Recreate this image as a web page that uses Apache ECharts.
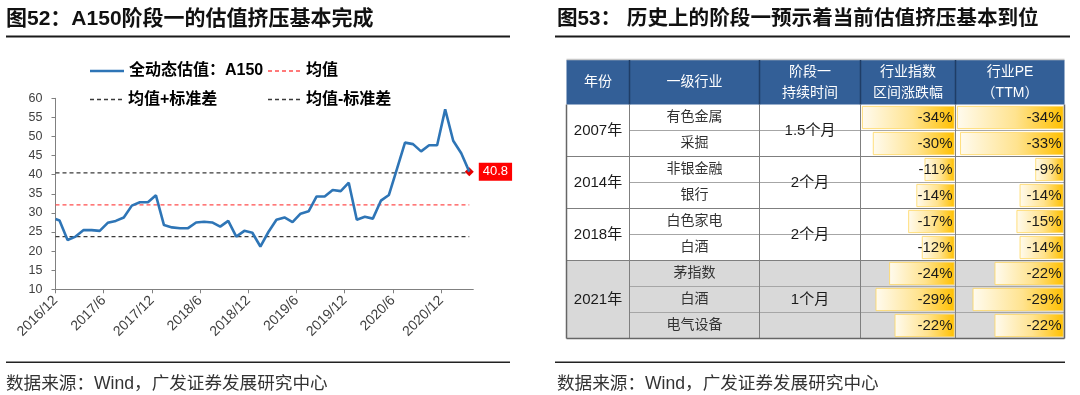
<!DOCTYPE html>
<html><head><meta charset="utf-8">
<script src="https://cdn.jsdelivr.net/npm/echarts@6/dist/echarts.min.js"></script>
<style>html,body{margin:0;padding:0;background:#fff}#c{width:1080px;height:395px}</style>
</head><body><div id="c"></div>
<script>
// ---------- Left chart data ----------
const dates = ['2016-12-01','2016-12-16',
 '2017-01-16','2017-02-16','2017-03-16','2017-04-16','2017-05-16','2017-06-16','2017-07-16','2017-08-16','2017-09-16','2017-10-16','2017-11-16','2017-12-16',
 '2018-01-16','2018-02-16','2018-03-16','2018-04-16','2018-05-16','2018-06-16','2018-07-16','2018-08-16','2018-09-16','2018-10-16','2018-11-16','2018-12-16',
 '2019-01-16','2019-02-16','2019-03-16','2019-04-16','2019-05-16','2019-06-16','2019-07-16','2019-08-16','2019-09-16','2019-10-16','2019-11-16','2019-12-16',
 '2020-01-16','2020-02-16','2020-03-16','2020-04-16','2020-05-16','2020-06-16','2020-07-16','2020-08-16','2020-09-16','2020-10-16','2020-11-16','2020-12-16',
 '2021-01-16','2021-02-16','2021-03-16'];
const a150Values = [28.4,28.0,
 22.9,23.8,25.5,25.5,25.3,27.4,27.9,28.8,31.9,32.8,32.8,34.6,
 26.8,26.2,26.0,26.0,27.5,27.7,27.5,26.4,27.9,23.8,25.3,24.8,
 21.2,25.0,28.2,28.8,27.6,29.8,30.4,34.3,34.3,36.0,35.7,37.9,
 28.2,29.0,28.5,33.2,34.7,41.5,48.4,48.0,46.1,47.7,47.7,57.1,
 48.9,45.6,40.8];
const meanValue = 32.1;
const upperValue = 40.5;   // 均值+标准差
const lowerValue = 23.8;   // 均值-标准差
const xTickLabels = ['2016/12','2017/6','2017/12','2018/6','2018/12','2019/6','2019/12','2020/6','2020/12'];
const seriesNames = ['全动态估值：A150','均值','均值+标准差','均值-标准差'];

// ---------- Right table data ----------
const headers = ['年份','一级行业','阶段一\n持续时间','行业指数\n区间涨跌幅','行业PE\n（TTM）'];
const years = ['2007年','2014年','2018年','2021年'];
const yearRowSpans = [2,2,2,3];
const durations = ['1.5个月','2个月','2个月','1个月'];
const industries = ['有色金属','采掘','非银金融','银行','白色家电','白酒','茅指数','白酒','电气设备'];
const indexChange = [-34,-30,-11,-14,-17,-12,-24,-29,-22];
const peChange = [-34,-33,-9,-14,-15,-14,-22,-29,-22];

// ---------- helpers ----------
const FF = "'Liberation Sans','Noto Sans CJK SC',sans-serif";
function monthIndex(s){const [y,m,d]=s.split('-').map(Number);return (y-2016)*12+(m-12)+(d-1)/30;}
const xs = dates.map(monthIndex);
const lineData = xs.map((x,i)=>[x,a150Values[i]]);
const xFirst = xs[0], xLast = xs[xs.length-1];
const hLine = v => [[xFirst,v],[xLast,v]];
const tickVals = xTickLabels.map((_,i)=>i*6);

// legend icons (solid and dashed line glyphs)
const solidIcon = 'path://M0,0H34V2.6H0Z';
let dash = ''; for(let x=0;x<34;x+=7) dash += `M${x},0H${Math.min(x+4,34)}V1.4H${x}Z`;
const dashIcon = 'path://' + dash;

// table layout
const C = [566.5, 629.5, 759.5, 860.5, 955.5, 1064.5];
const headTop = 60, rowTop0 = 104.5, rowH = 26;
const rowY = k => rowTop0 + k*rowH;
const nRows = industries.length;

const G = [];
const txt = (x,y,text,opt={}) => G.push({type:'text', z:10, silent:true, style:Object.assign({x,y,text,fill:'#222',font:`14px ${FF}`,align:'center',verticalAlign:'middle'},opt)});
const ln = (x1,y1,x2,y2,stroke,w) => G.push({type:'line', z:8, silent:true, shape:{x1,y1,x2,y2}, style:{stroke, lineWidth:w}});
const rect = (x,y,w,h,fill,z=0) => G.push({type:'rect', z, silent:true, shape:{x,y,width:w,height:h}, style:{fill}});

// titles & footers
txt(6,19,'图52：A150阶段一的估值挤压基本完成',{align:'left',font:`bold 21px ${FF}`,fill:'#111'});
rect(6,35.5,504,2,'#1a1a1a',5);
txt(557,19,'图53： 历史上的阶段一预示着当前估值挤压基本到位',{align:'left',font:`bold 20.6px ${FF}`,fill:'#111'});
rect(555,35.5,515,2,'#1a1a1a',5);
rect(6,361.5,504,1.6,'#222',5);
rect(555,361.5,510,1.6,'#222',5);
txt(6,384,'数据来源：Wind，广发证券发展研究中心',{align:'left',font:`17.6px ${FF}`,fill:'#333'});
txt(557,384,'数据来源：Wind，广发证券发展研究中心',{align:'left',font:`17.6px ${FF}`,fill:'#333'});

// table header
ln(C[0],59.5,C[5],59.5,'#c8c8c8',1.5);
rect(C[0],headTop,C[5]-C[0],rowTop0-headTop,'#335f97',1);
for(let i=1;i<5;i++) ln(C[i],headTop,C[i],rowTop0,'#1f3d66',1.5);
headers.forEach((h,i)=>txt((C[i]+C[i+1])/2,82.5,h,{fill:'#fff',font:`14px ${FF}`,lineHeight:21}));

// grey background for last group
let startRows=[];{let s=0;yearRowSpans.forEach(n=>{startRows.push(s);s+=n;});}
const lastG = years.length-1;
rect(C[0],rowY(startRows[lastG]),C[5]-C[0],yearRowSpans[lastG]*rowH,'#d9d9d9',0);

// horizontal lines
for(let k=1;k<nRows;k++){
  if(startRows.includes(k)) ln(C[0],rowY(k),C[5],rowY(k),'#7f7f7f',1);
  else ln(C[1],rowY(k),C[5],rowY(k),'#a6a6a6',1);
}
// vertical lines
for(let i=1;i<5;i++) ln(C[i],rowTop0,C[i],rowY(nRows),'#7f7f7f',1);
ln(C[0],rowTop0,C[0],rowY(nRows),'#666',1.5);
ln(C[5],rowTop0,C[5],rowY(nRows),'#666',1.5);
ln(C[0],rowY(nRows),C[5],rowY(nRows),'#666',1.5);

// body texts
years.forEach((y,g)=>{
  const cy = rowY(startRows[g]) + yearRowSpans[g]*rowH/2;
  txt((C[0]+C[1])/2,cy,y,{font:`15px ${FF}`,fill:'#1a1a1a'});
  txt((C[2]+C[3])/2,cy,durations[g],{font:`15px ${FF}`,fill:'#1a1a1a'});
});
industries.forEach((s,k)=>txt((C[1]+C[2])/2,rowY(k)+rowH/2,s,{font:`14px ${FF}`,fill:'#333'}));

const barGrad = () => new echarts.graphic.LinearGradient(0,0,1,0,[
  {offset:0,color:'#fffbef'},{offset:0.55,color:'#ffe38f'},{offset:1,color:'#ffc000'}]);
const barLabel = {show:true,position:'insideRight',distance:2,formatter:p=>p.value+'%',
  fontFamily:FF,fontSize:15,color:'#1a1a1a'};

const legendIcons = [solidIcon, dashIcon, dashIcon, dashIcon];
const gridTop = rowTop0, gridH = nRows*rowH;
const option = {
  animation:false,
  backgroundColor:'#fff',
  grid:[
    {left:55.5,top:98.3,width:417.8,height:191,outerBoundsMode:'none'},
    {left:C[3]+1.5,top:gridTop,width:C[4]-C[3]-2.5,height:gridH,outerBoundsMode:'none'},
    {left:C[4]+1.5,top:gridTop,width:C[5]-C[4]-2.5,height:gridH,outerBoundsMode:'none'}
  ],
  legend:[0,1,2,3].map(i=>({
    data:[{name:seriesNames[i],icon:legendIcons[i]}],
    left:[85,263,85,263][i], top:[58,58,86.5,86.5][i],
    itemWidth:34,itemHeight:i===0?2.6:1.4,itemGap:0,selectedMode:false,
    textStyle:{fontFamily:FF,fontSize:16,fontWeight:'bold',color:'#000'}
  })),
  xAxis:[
    {type:'value',gridIndex:0,min:0,max:52,interval:6,
     axisLine:{lineStyle:{color:'#808080',width:1}},
     axisTick:{show:true,length:4,customValues:tickVals,lineStyle:{color:'#808080'}},
     axisLabel:{customValues:tickVals,rotate:45,margin:9,fontFamily:FF,fontSize:14,color:'#404040',
       formatter:v=>xTickLabels[Math.round(v/6)]||''},
     splitLine:{show:false}},
    {type:'value',gridIndex:1,min:-34,max:0,show:false},
    {type:'value',gridIndex:2,min:-34,max:0,show:false}
  ],
  yAxis:[
    {type:'value',gridIndex:0,min:10,max:60,interval:5,
     axisLine:{show:true,lineStyle:{color:'#808080',width:1}},
     axisTick:{show:true,length:4,lineStyle:{color:'#808080'}},
     axisLabel:{margin:13,fontFamily:FF,fontSize:12.5,color:'#404040'},
     splitLine:{show:false}},
    {type:'category',gridIndex:1,inverse:true,data:industries,show:false},
    {type:'category',gridIndex:2,inverse:true,data:industries,show:false}
  ],
  series:[
    {name:seriesNames[0],type:'line',xAxisIndex:0,yAxisIndex:0,data:lineData,symbol:'none',
     lineStyle:{color:'#2e75b6',width:2.6},itemStyle:{color:'#2e75b6'},z:5,
     markPoint:{symbol:'diamond',symbolSize:9,itemStyle:{color:'#e60000'},
       label:{show:true,position:'right',distance:5,formatter:'{c}',backgroundColor:'#ff0000',
         color:'#fff',fontFamily:FF,fontSize:13,padding:[3,4,2,4]},
       data:[{coord:lineData[lineData.length-1],value:a150Values[a150Values.length-1]}]}},
    {name:seriesNames[1],type:'line',xAxisIndex:0,yAxisIndex:0,data:hLine(meanValue),symbol:'none',
     lineStyle:{color:'#ff4d4d',width:1.3,type:[4,3]},itemStyle:{color:'#ff4d4d'},z:3},
    {name:seriesNames[2],type:'line',xAxisIndex:0,yAxisIndex:0,data:hLine(upperValue),symbol:'none',
     lineStyle:{color:'#3a3a3a',width:1.3,type:[4,3]},itemStyle:{color:'#3a3a3a'},z:3},
    {name:seriesNames[3],type:'line',xAxisIndex:0,yAxisIndex:0,data:hLine(lowerValue),symbol:'none',
     lineStyle:{color:'#3a3a3a',width:1.3,type:[4,3]},itemStyle:{color:'#3a3a3a'},z:3},
    {type:'bar',xAxisIndex:1,yAxisIndex:1,data:indexChange,barWidth:23,
     itemStyle:{color:barGrad(),borderColor:'#ffd75e',borderWidth:0.8},label:barLabel},
    {type:'bar',xAxisIndex:2,yAxisIndex:2,data:peChange,barWidth:23,
     itemStyle:{color:barGrad(),borderColor:'#ffd75e',borderWidth:0.8},label:barLabel}
  ],
  graphic:{elements:G}
};
const chart = echarts.init(document.getElementById('c'),null,{renderer:'canvas'});
chart.setOption(option);
</script></body></html>
